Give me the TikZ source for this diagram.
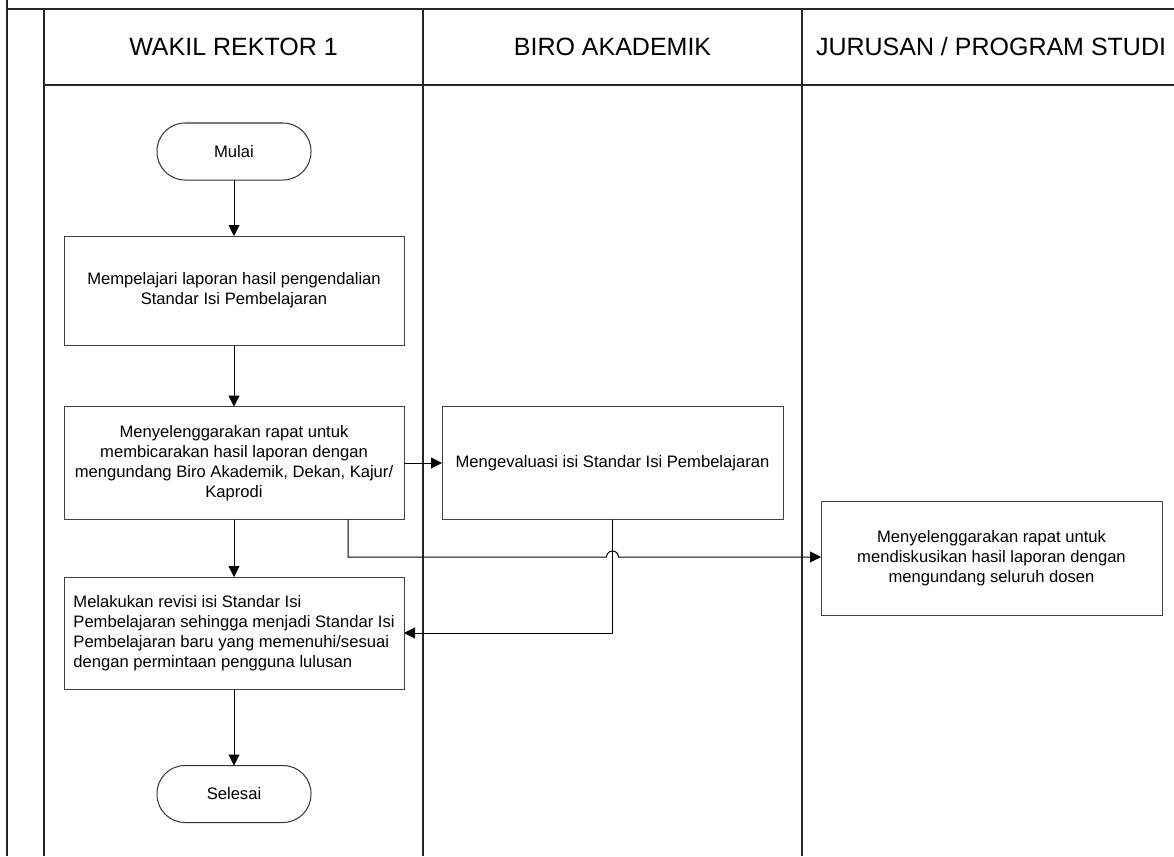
\documentclass[tikz,border=0pt]{standalone}
\usepackage{fontspec}
\setmainfont{Liberation Sans}
\usetikzlibrary{arrows.meta}
\begin{document}
\begin{tikzpicture}[x=1pt,y=1pt]
		\tikzset{box/.style = {draw=black!75, line width=1pt, minimum width=340pt, minimum height=113pt, inner sep=0pt, outer sep=0pt, align=center, font=\fontsize{16.6}{20}\selectfont}}
		\tikzset{term/.style = {draw=black!80, line width=1pt, minimum width=154pt, minimum height=57pt, rounded corners=28pt, inner sep=0pt, outer sep=0pt, font=\fontsize{16.6}{20}\selectfont}}
		\tikzset{edge/.style = {line width=1pt, -{Triangle[length=11pt,width=11pt]}}}
		\tikzset{lane/.style = {line width=1.6pt, black!85}}
		\tikzset{head/.style = {font=\fontsize{25}{30}\selectfont}}
		
		\useasboundingbox (0,0) rectangle (1174,-856);
		
		% lanes
		\draw[lane] (7,0) -- (7,-856);
		\draw[lane] (7,-9) -- (1174,-9);
		\draw[lane] (44,-9) -- (44,-856);
		\draw[lane] (423,-9) -- (423,-856);
		\draw[lane] (802,-9) -- (802,-856);
		\draw[lane, line width=1.2pt] (44,-85) -- (1174,-85);
		
		\node[head]  (h1) at ( 233.5,  -47) {WAKIL REKTOR 1};
		\node[head]  (h2) at ( 612.5,  -47) {BIRO AKADEMIK};
		\node[head]  (h3) at ( 991,    -47) {JURUSAN / PROGRAM STUDI};
		
		% steps
		\node[term]  (1) at ( 234,  -151.5) {Mulai};
		\node[box, minimum height=109pt]  (2) at ( 234,  -290.5) {Mempelajari laporan hasil pengendalian\\Standar Isi Pembelajaran};
		\node[box]   (3) at ( 234,  -463) {Menyelenggarakan rapat untuk\\membicarakan hasil laporan dengan\\mengundang Biro Akademik, Dekan, Kajur/\\Kaprodi};
		\node[box, minimum width=341pt]   (4) at ( 612.5,  -463) {Mengevaluasi isi Standar Isi Pembelajaran};
		\node[box, minimum width=341pt, minimum height=114pt]   (5) at ( 991.5,  -558) {Menyelenggarakan rapat untuk\\mendiskusikan hasil laporan dengan\\mengundang seluruh dosen};
		\node[box, minimum height=112pt, align=left]   (6) at ( 234,  -633) {Melakukan revisi isi Standar Isi\\Pembelajaran sehingga menjadi Standar Isi\\Pembelajaran baru yang memenuhi/sesuai\\dengan permintaan pengguna lulusan};
		\node[term]  (7) at ( 234,  -794) {Selesai};
		
		\coordinate (a) at (348, -557);
		\coordinate (b) at (606.5, -557);
		
		\draw[edge] (1) to  (2);
		\draw[edge] (2) to  (3);
		\draw[edge] (3) to  (4);
		\draw[edge] (3) to  (6);
		\draw[edge] (6) to  (7);
		\draw[edge] (a |- 3.south) -- (a) -- (b) arc[start angle=180, end angle=0, radius=6] -- (a -| 5.west);
		\draw[edge] (4.south) -- (4 |- 6) -- (6.east);
		\end{tikzpicture}
\end{document}
